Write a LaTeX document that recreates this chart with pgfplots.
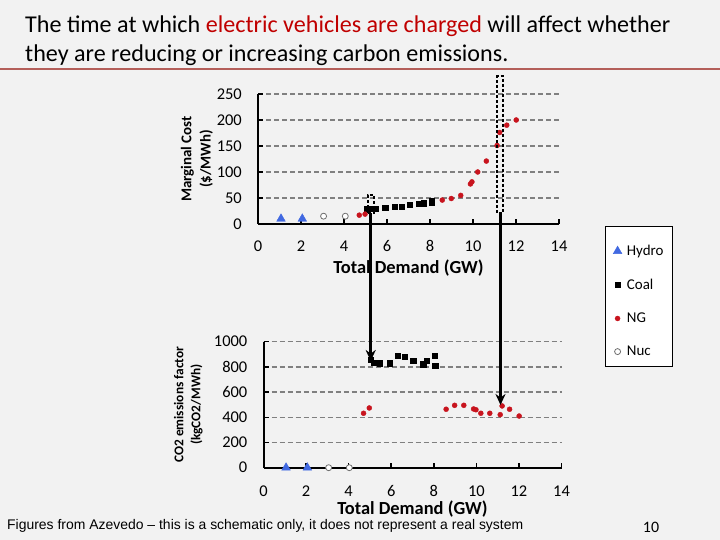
\documentclass[border=0pt]{standalone}
\usepackage{fontspec}
\setmainfont{Carlito}
\newfontfamily\arialfont{Liberation Sans}
\usepackage{pgfplots}
\pgfplotsset{compat=1.18}
\usetikzlibrary{arrows.meta}
\definecolor{bg}{RGB}{242,242,242}
\definecolor{hydro}{RGB}{65,105,225}
\definecolor{ngred}{RGB}{200,20,30}
\definecolor{titlered}{RGB}{192,0,0}
\definecolor{rulecol}{RGB}{180,95,90}
\definecolor{gridgray}{RGB}{128,128,128}
\definecolor{nucgray}{RGB}{110,110,110}

\pgfplotsset{
 mystyle/.style={
  scale only axis, axis lines*=left,
  axis line style={line width=2bp, black},
  xmin=0, xmax=14, xtick={0,2,...,14},
  tick align=inside, major tick length=5bp,
  tick style={line width=1.5bp, black},
  ymajorgrids,
  grid style={gridgray, line width=1.5bp, dash pattern=on 5bp off 3bp},
  /pgf/number format/assume math mode=true,
  /pgf/number format/1000 sep={},
  ticklabel style={font=\fontsize{16.5}{19}\selectfont},
  xticklabel style={anchor=center, inner sep=0pt, yshift=-22bp},
  yticklabel style={anchor=east, inner sep=0pt, xshift=-16bp},
  clip=false,
  xlabel style={font=\bfseries\fontsize{18.5}{21}\selectfont, anchor=center},
  ylabel style={anchor=center, align=center},
 }
}

\begin{document}
\begin{tikzpicture}[x=1bp,y=1bp]
\fill[bg] (0,0) rectangle (720,540);
\useasboundingbox (0,0) rectangle (720,540);

% title
\node[anchor=base west, inner sep=0pt, font=\fontsize{24.2}{28}\selectfont] at (25,507)
 {The time at which \textcolor{titlered}{electric vehicles are charged} will affect whether};
\node[anchor=base west, inner sep=0pt, font=\fontsize{24.2}{28}\selectfont] at (25,478)
 {they are reducing or increasing carbon emissions.};
\draw[rulecol, line width=2bp] (0,471) -- (720,471);

% legend frame
\draw[black, line width=1bp, fill=white] (605,173) rectangle (672,313);

% top axis: marginal cost
\begin{axis}[mystyle, at={(258bp,316bp)}, anchor=south west,
  width=301bp, height=130bp,
  ymin=0, ymax=250, ytick={0,50,...,250},
  xlabel={Total Demand (GW)},
  xlabel style={at={(axis description cs:0.5,-0.338)}},
  ylabel={Marginal Cost\\(\$/MWh)},
  ylabel style={at={(axis description cs:-0.203,0.5)}, font=\bfseries\fontsize{15}{19.5}\selectfont},
  legend style={at={(axis description cs:1.153,-0.023)}, anchor=north west,
    draw=none, fill=none,
    font=\fontsize{15}{17}\selectfont, row sep=18bp, column sep=3bp,
    inner xsep=8bp, inner ysep=16bp},
  legend cell align=left,
]
\addplot[only marks, mark=triangle*, mark size=5bp, color=hydro] coordinates {
 (1.07,10) (2.06,10)
};
\addlegendentry{Hydro}
\addplot[only marks, mark=square*, mark size=2.6bp, color=black] coordinates {
 (5.05,30) (5.20,29) (5.47,30) (5.92,31) (6.34,33) (6.67,34) (7.05,37)
 (7.50,39) (7.71,40) (8.07,42) (8.09,44)
};
\addlegendentry{Coal}
\addplot[only marks, mark=*, mark size=2.5bp, color=ngred] coordinates {
 (4.71,17) (4.98,19) (8.57,46) (8.99,49) (9.43,55) (9.88,77) (9.95,81)
 (10.22,100) (10.62,121) (11.12,151) (11.24,176) (11.57,190) (12.01,200)
};
\addlegendentry{NG}
\addplot[only marks, mark=*, mark size=3bp, mark options={draw=nucgray, fill=white, line width=0.8bp}] coordinates {
 (3.05,15) (4.06,15)
};
\addlegendentry{Nuc}
\end{axis}

% bottom axis: CO2 emissions factor
\begin{axis}[mystyle, at={(263.5bp,72.3bp)}, anchor=south west,
  width=298bp, height=126bp,
  ymin=0, ymax=1000, ytick={0,200,...,1000},
  xlabel={Total Demand (GW)},
  xlabel style={at={(axis description cs:0.5,-0.33)}},
  xticklabel style={yshift=-1.5bp},
  ylabel={CO2 emissions factor\\(kgCO2/MWh)},
  ylabel style={at={(axis description cs:-0.252,0.5)}, font=\bfseries\fontsize{13.4}{17}\selectfont},
]
\addplot[only marks, mark=triangle*, mark size=5bp, color=hydro] coordinates {
 (1.06,0) (2.06,0)
};
\addplot[only marks, mark=square*, mark size=2.6bp, color=black] coordinates {
 (5.02,855) (5.20,834) (5.47,829) (5.91,829) (6.30,889) (6.64,879) (7.03,847)
 (7.50,821) (7.67,847) (8.05,887) (8.07,810)
};
\addplot[only marks, mark=*, mark size=2.5bp, color=ngred] coordinates {
 (4.70,432) (4.97,474) (8.58,464) (8.98,495) (9.41,495) (9.87,466) (9.98,460)
 (10.21,432) (10.63,432) (11.12,421) (11.21,490) (11.56,464) (12.01,410)
};
\addplot[only marks, mark=*, mark size=3bp, mark options={draw=nucgray, fill=white, line width=0.8bp}] coordinates {
 (3.06,0) (4.03,0)
};
\end{axis}

% annotations: dashed selection boxes and arrows
\draw[black, line width=1.8bp, dash pattern=on 3bp off 2bp] (368.3,327) rectangle (374.3,345);
\draw[black, line width=1.8bp, dash pattern=on 3bp off 2bp] (497.3,327.3) rectangle (502.7,464);
\draw[black, line width=2.7bp, -{Stealth[length=11bp, width=10bp]}] (370.7,327) -- (370.7,179);
\draw[black, line width=2.7bp, -{Stealth[length=11bp, width=10bp]}] (500.5,327.3) -- (500.5,135);

% footer
\node[anchor=base west, inner sep=0pt, font=\arialfont\fontsize{14}{16}\selectfont] at (7,10)
 {Figures from Azevedo – this is a schematic only, it does not represent a real system};
\node[anchor=center, inner sep=0pt, font=\fontsize{16}{19}\selectfont] at (651,13) {10};
\end{tikzpicture}
\end{document}
